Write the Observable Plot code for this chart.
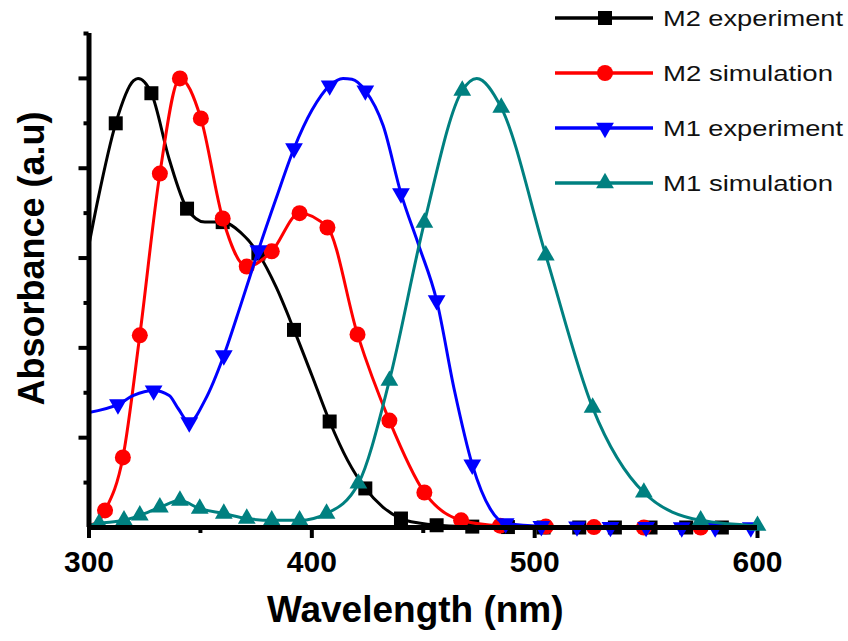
<!DOCTYPE html>
<html><head><meta charset="utf-8">
<script src="https://cdn.jsdelivr.net/npm/d3@7"></script>
<script src="https://cdn.jsdelivr.net/npm/@observablehq/plot@0.6"></script>
<style>body{margin:0;background:#fff;} #chart{width:848px;height:641px;}</style>
</head><body><div id="chart"></div>
<script>
// ---- Series meta ----
const seriesNames = ["M2 experiment", "M2 simulation", "M1 experiment", "M1 simulation"];
const seriesColors = ["#000000", "#ff0000", "#0000ff", "#008080"];
const seriesSymbols = ["square", "circle", "triangle", "triangle"];
const seriesRotate = [0, 0, 180, 0];

// ---- M2 experiment (black, squares) ----
const m2ExpWl  = [300, 304, 312, 320, 322, 328, 336, 344, 352, 360, 368, 376, 384, 392, 400, 408, 416, 424, 432, 440, 448, 456, 472, 488, 504, 520, 536, 552, 568, 584, 600];
const m2ExpAbs = [0.63, 0.73, 0.90, 0.995, 1.0, 0.967, 0.82, 0.71, 0.68, 0.68, 0.657, 0.61, 0.535, 0.44, 0.339, 0.236, 0.15, 0.087, 0.045, 0.02, 0.01, 0.005, 0.002, 0.001, 0, 0, 0, 0, 0, 0, 0];
const m2ExpMarks = [312, 328, 344, 360, 376, 392, 408, 424, 440, 456, 472, 488, 504, 520, 536, 552, 568, 584];

// ---- M2 simulation (red, circles) ----
const m2SimWl  = [300, 304.5, 307.2, 315.2, 322.8, 331.8, 340.8, 350.2, 360, 370.8, 382, 394.5, 407, 420.5, 434.8, 450.5, 467, 484.5, 505, 526.6, 549, 574.5, 600];
const m2SimAbs = [0.005, 0.015, 0.038, 0.156, 0.428, 0.788, 1.0, 0.911, 0.688, 0.581, 0.615, 0.70, 0.668, 0.43, 0.238, 0.078, 0.016, 0.004, 0.002, 0.001, 0, 0, 0];
const m2SimMarks = [307.2, 315.2, 322.8, 331.8, 340.8, 350.2, 360, 370.8, 382, 394.5, 407, 420.5, 434.8, 450.5, 467, 484.5, 505, 526.6, 549, 574.5];

// ---- M1 experiment (blue, down triangles) ----
const m1ExpWl  = [300, 313, 320, 329, 336, 340, 345, 352, 360.5, 368, 376, 384, 392, 400, 408, 414, 418, 424, 432, 440, 448, 456, 464, 472, 480, 487, 503, 519, 534, 550, 566, 581, 597, 600];
const m1ExpAbs = [0.256, 0.274, 0.294, 0.305, 0.294, 0.265, 0.234, 0.283, 0.383, 0.494, 0.617, 0.733, 0.844, 0.929, 0.984, 1.0, 0.998, 0.973, 0.895, 0.744, 0.628, 0.506, 0.305, 0.14, 0.042, 0.009, 0.003, 0.002, 0.001, 0.001, 0, 0, 0, 0];
const m1ExpMarks = [313, 329, 345, 360.5, 376, 392, 408, 424, 440, 456, 472, 487, 503, 519, 534, 550, 566, 581, 597];

// ---- M1 simulation (teal, up triangles) ----
const m1SimWl  = [300, 304.5, 315.7, 322.8, 331.8, 340.8, 349.7, 360.5, 370.8, 382, 394.5, 406.6, 420.9, 434.8, 450.5, 467.5, 474, 485, 505, 526, 549, 574.5, 600];
const m1SimAbs = [0.005, 0.009, 0.016, 0.027, 0.045, 0.06, 0.042, 0.031, 0.02, 0.016, 0.016, 0.031, 0.098, 0.327, 0.679, 0.973, 1.0, 0.935, 0.606, 0.267, 0.078, 0.016, 0.004];
const m1SimMarks = [304.5, 315.7, 322.8, 331.8, 340.8, 349.7, 360.5, 370.8, 382, 394.5, 406.6, 420.9, 434.8, 450.5, 467.5, 485, 505, 526, 549, 574.5, 600];

// ---- Axes ----
const xMajor = [300, 400, 500, 600];
const xTickLabels = ["300", "400", "500", "600"];
const xMinor = [350, 450, 550];
const yMajor = [0.2, 0.4, 0.6, 0.8, 1.0];
const yMinor = [0.1, 0.3, 0.5, 0.7, 0.9, 1.1];
const xTitle = "Wavelength (nm)";
const yTitle = "Absorbance (a.u)";

const seriesData = [
  [m2ExpWl, m2ExpAbs, m2ExpMarks],
  [m2SimWl, m2SimAbs, m2SimMarks],
  [m1ExpWl, m1ExpAbs, m1ExpMarks],
  [m1SimWl, m1SimAbs, m1SimMarks]
];
const symbolR = {square: 7.9, circle: 8, triangle: 6.6};

const seriesMarks = [];
seriesData.forEach(([wl, ab, mk], s) => {
  const rows = wl.map((w, i) => ({wl: w, abs: ab[i], marker: mk.includes(w)}));
  seriesMarks.push(Plot.line(rows, {x: "wl", y: "abs", stroke: seriesColors[s], strokeWidth: 3, curve: "monotone-x"}));
  seriesMarks.push(Plot.dot(rows.filter(d => d.marker), {
    x: "wl", y: "abs", symbol: seriesSymbols[s], r: symbolR[seriesSymbols[s]],
    fill: seriesColors[s], stroke: "none", rotate: seriesRotate[s]
  }));
});

const font = "'Liberation Sans', Arial, sans-serif";
const plot = Plot.plot({
  width: 848, height: 641,
  marginLeft: 88.5, marginRight: 91, marginTop: 33, marginBottom: 114,
  x: {domain: [300, 600]},
  y: {domain: [0, 1.1]},
  style: {fontFamily: font, background: "white", color: "black"},
  marks: [
    Plot.axisX({ticks: xMajor, tickSize: 11, tickPadding: 12, strokeWidth: 4, fontSize: 30, fontWeight: "bold",
                tickFormat: (d) => xTickLabels[xMajor.indexOf(d)], label: null}),
    Plot.axisX({ticks: xMinor, tickSize: 6, strokeWidth: 4, tickFormat: () => "", label: null}),
    Plot.axisY({ticks: yMajor, tickSize: 10, strokeWidth: 4, tickFormat: () => "", label: null}),
    Plot.axisY({ticks: yMinor, tickSize: 5, strokeWidth: 4, tickFormat: () => "", label: null}),
    ...seriesMarks,
    Plot.ruleX([300], {y1: 0, y2: 1.1, strokeWidth: 5}),
    Plot.ruleY([0], {x1: 300, x2: 600, strokeWidth: 5}),
    Plot.text([xTitle], {text: d => d, frameAnchor: "bottom", textAnchor: "middle", dy: 94, dx: -8, fontSize: 37, fontWeight: "bold"}),
    Plot.text([yTitle], {text: d => d, frameAnchor: "left", textAnchor: "middle", rotate: -90, dx: -57, dy: -22, fontSize: 36, fontWeight: "bold"})
  ]
});
document.getElementById("chart").appendChild(plot);

// ---- Legend (inside the SVG, top right) ----
const lg = d3.select(plot).append("g").attr("class", "legend").attr("text-anchor", "start");
const symMap = {square: d3.symbolSquare, circle: d3.symbolCircle, triangle: d3.symbolTriangle};
seriesNames.forEach((name, i) => {
  const y = 18 + i * 55;
  const g = lg.append("g").attr("transform", `translate(0,${y})`);
  g.append("line").attr("x1", 555).attr("x2", 653).attr("y1", 0).attr("y2", 0)
    .attr("stroke", seriesColors[i]).attr("stroke-width", 3.5);
  const r = symbolR[seriesSymbols[i]];
  g.append("path").attr("d", d3.symbol(symMap[seriesSymbols[i]], Math.PI * r * r)())
    .attr("transform", `translate(605,0) rotate(${seriesRotate[i]})`).attr("fill", seriesColors[i]);
  g.append("text").attr("x", 663).attr("y", 0).attr("dy", "0.35em").attr("text-anchor", "start")
    .attr("font-family", font).attr("font-size", 22).attr("fill", "#111")
    .attr("textLength", name.includes("experiment") ? 180 : 170).attr("lengthAdjust", "spacingAndGlyphs")
    .text(name);
});
</script>
</body></html>
